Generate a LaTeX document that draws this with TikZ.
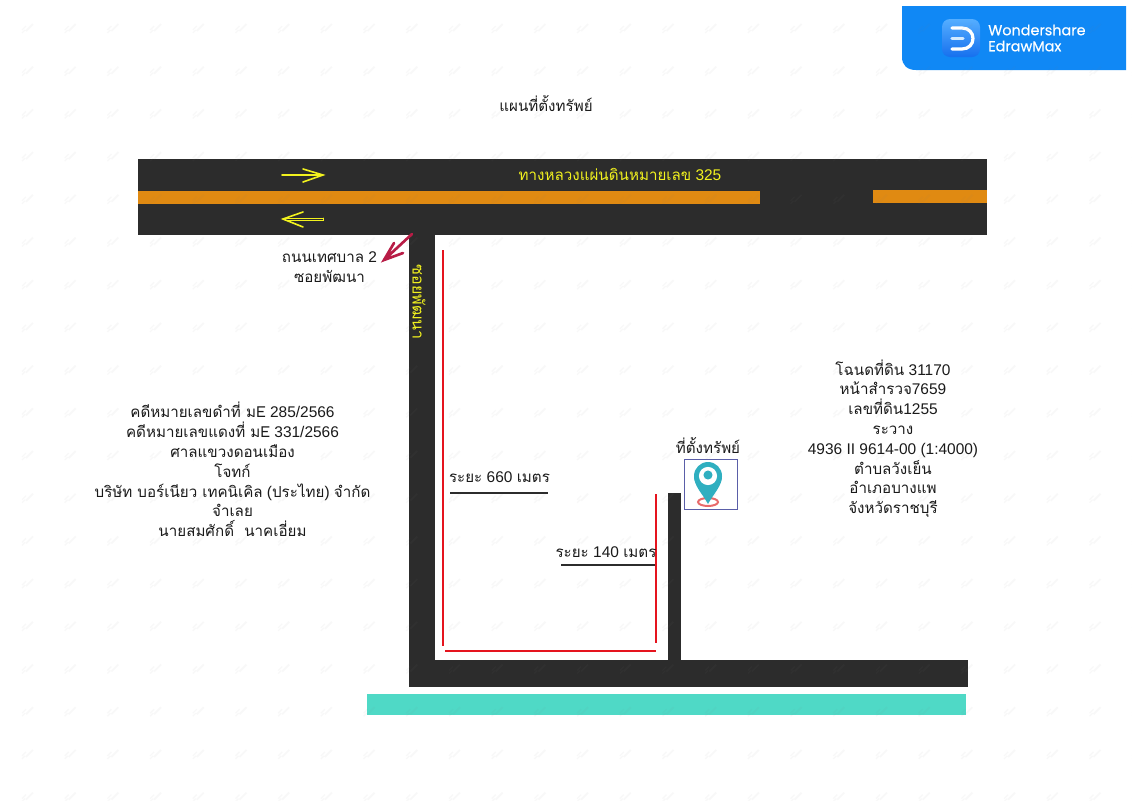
\documentclass[tikz,border=0pt]{standalone}
\usepackage{fontspec}
\setmainfont{Liberation Sans}
\newfontfamily\thaifont[Script=Thai,Scale=0.98]{Loma}
\newfontfamily\logofont[FakeBold=0.4]{Poppins}
\newcommand{\T}[1]{{\thaifont #1}}
\definecolor{roaddark}{HTML}{2C2C2C}
\definecolor{roadorange}{HTML}{E08A12}
\definecolor{teal1}{HTML}{4FD9C6}
\definecolor{redline}{HTML}{E5141E}
\definecolor{crim}{HTML}{B81C46}
\definecolor{yel}{HTML}{F2F21E}
\definecolor{pinteal}{HTML}{2FAFC0}
\definecolor{pinred}{HTML}{E86A6A}
\definecolor{boxblue}{HTML}{5A5EA8}
\definecolor{logoblue}{HTML}{1088F5}
\definecolor{icontop}{HTML}{55AEFF}
\definecolor{iconbot}{HTML}{1670EE}
\definecolor{inktext}{HTML}{1A1A1A}
\tikzset{
  road/.style={fill=roaddark},
  lane/.style={fill=roadorange},
  redmark/.style={draw=redline,line width=1.5pt},
  underl/.style={draw=roaddark,line width=.8pt},
  yarrow/.style={draw=yel,line width=1.2pt,line cap=round},
  txt/.style={align=center,inner sep=0pt,font=\fontsize{11.6}{14.85}\selectfont,text=inktext},
}
\begin{document}
\begin{tikzpicture}[x=.75pt,y=-.75pt]
\useasboundingbox (0,0) rectangle (1132,800);
\fill[white] (0,0) rectangle (1132,800);
% roads
\fill[road] (138,159) rectangle (987,235);
\fill[road] (409,235) rectangle (435,687);
\fill[road] (409,660) rectangle (968,687);
\fill[road] (668,493) rectangle (681,660);
\fill[lane] (138,191) rectangle (760,204);
\fill[lane] (873,190) rectangle (987,203);
\fill[teal1] (367,694) rectangle (966,715);
% red measure lines
\draw[redmark] (443,250) -- (443,646);
\draw[redmark] (445,651) -- (656,651);
\draw[redmark] (656,494) -- (656,643);
\draw[underl] (450,493) -- (548,493);
\draw[underl] (561,565) -- (655,565);
% yellow arrows
\draw[yarrow] (282,175) -- (323,175) (303,169) -- (323,175) -- (303,182);
\draw[yarrow,line width=.7pt] (323,218) -- (285,218) (285,220.5) -- (323,220.5) -- (323,218);
\draw[yarrow] (303,212) -- (283,219) -- (303,227);
% red arrow
\coordinate (ra) at (412,234);
\coordinate (rb) at (384,260);
\draw[crim,line width=2pt,line cap=round] (ra) -- (rb) (394,243) -- (rb) -- (403,253);
% labels
\node[txt] (title) at (546,103.5) {\T{แผนที่ตั้งทรัพย์}};
\node[txt,text=yel] (hw) at (620,174.5) {\T{ทางหลวงแผ่นดินหมายเลข} 325};
\node[txt] (soi) at (329.5,267.5) {\T{ถนนเทศบาล} 2\\\T{ซอยพัฒนา}};
\node[txt,text=yel,rotate=-90,font=\fontsize{12.3}{15}\selectfont] (soiv) at (419,302) {\T{ซอยพัฒนา}};
\node[txt] (left) at (232.5,469.5) {\T{คดีหมายเลขดำที่ มE} 285/2566\\\T{คดีหมายเลขแดงที่ มE} 331/2566\\\T{ศาลแขวงดอนเมือง}\\\T{โจทก์}\\\T{บริษัท บอร์เนียว เทคนิเคิล} (\T{ประไทย}) \T{จำกัด}\\\T{จำเลย}\\\T{นายสมศักดิ์\ \ นาคเอี่ยม}};
\node[txt] (right) at (893,438.5) {\T{โฉนดที่ดิน} 31170\\\T{หน้าสำรวจ}7659\\\T{เลขที่ดิน}1255\\\T{ระวาง}\\4936 II 9614-00 (1:4000)\\\T{ตำบลวังเย็น}\\\T{อำเภอบางแพ}\\\T{จังหวัดราชบุรี}};
\node[txt] (d660) at (499.5,477) {\T{ระยะ} 660 \T{เมตร}};
\node[txt] (d140) at (606,552) {\T{ระยะ} 140 \T{เมตร}};
\node[txt] (loc) at (708,445) {\T{ที่ตั้งทรัพย์}};
% pin
\draw[boxblue,line width=.7pt] (684,459) rectangle (737,509);
\draw[pinred,line width=1.5pt,fill=white] (708,502) ellipse [x radius=7.5pt,y radius=3pt];
\fill[pinteal] (708,504) .. controls (702,493) and (694,486) .. (694,476) -- (722,476) .. controls (722,486) and (714,493) .. (708,504) -- cycle;
\fill[pinteal] (708,476) circle (10.5pt);
\fill[white] (708,476) circle (6.8pt);
\fill[pinteal] (708,475) circle (3.4pt);
% logo
\fill[logoblue] (902,6) -- (1126,6) -- (1126,70) -- (916,70) .. controls (907,70) and (902,65) .. (902,57) -- cycle;
\shade[top color=icontop,bottom color=iconbot,rounded corners=6pt] (942,19) rectangle (980,57);
\draw[white,line width=2.4pt,line cap=round] (952,28) -- (962,28) .. controls (969,28) and (973,33) .. (973,38.5) .. controls (973,44) and (969,49) .. (962,49) -- (952,49);
\draw[white!75!icontop,line width=2.4pt,line cap=round] (952,38.5) -- (963,38.5);
\node[anchor=west,inner sep=0pt,text=white,font=\logofont\fontsize{10.8}{12}\selectfont,align=left] (lg) at (988,38) {Wondershare\\EdrawMax};
% watermark
\foreach \i in {0,...,26}{\foreach \j in {0,...,18}{
  \begin{scope}[shift={(28+42.7*\i,28+42.7*\j)}]
    \draw[gray,opacity=.05,line width=1.4pt] (-2,3) -- (5,-4);
    \draw[gray,opacity=.05,line width=1pt] (-6,2) -- (-2,-2) (-6,5) -- (-3,2);
  \end{scope}}}
\end{tikzpicture}
\end{document}
